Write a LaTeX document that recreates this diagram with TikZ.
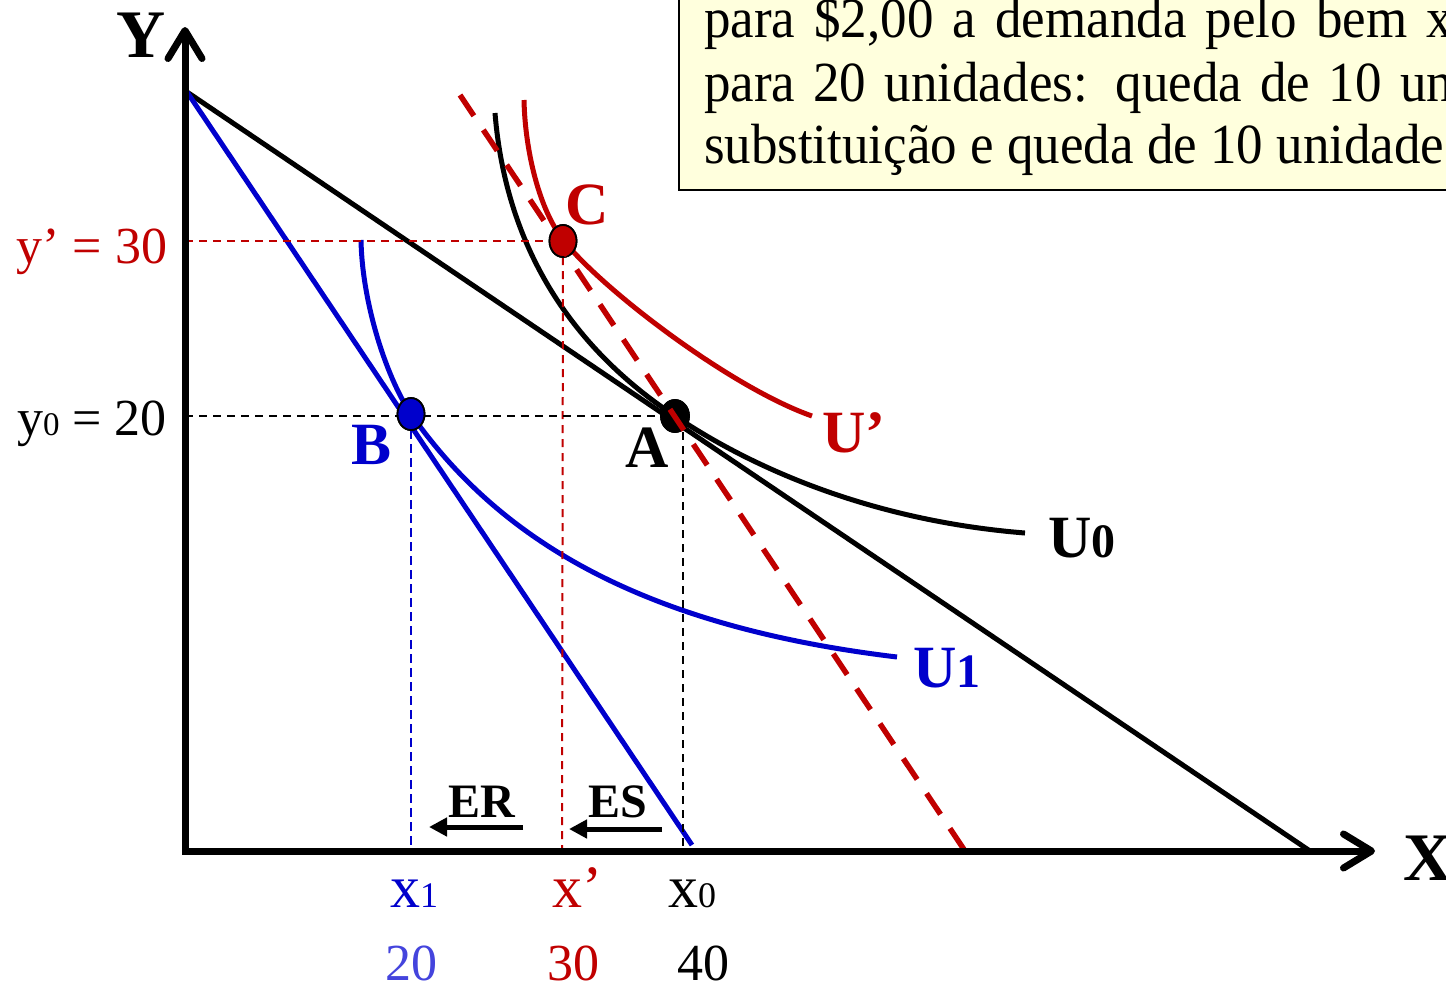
\documentclass[tikz,border=0pt]{standalone}
\usepackage{fontspec}
\setmainfont{Liberation Serif}
\usetikzlibrary{arrows.meta,shapes.geometric}
\definecolor{dred}{RGB}{192,0,0}
\definecolor{dblue}{RGB}{0,0,204}
\definecolor{lblue}{RGB}{68,68,221}
\definecolor{boxfill}{RGB}{255,255,221}
\newcommand\myfs[1]{\fontsize{#1}{#1}\selectfont}
\begin{document}
\begin{tikzpicture}[x=1pt,y=-1pt,
  every node/.style={inner sep=0pt, outer sep=0pt},
  axisline/.style={line width=7pt, -{Straight Barb[length=28pt,width=34pt,round]}},
  bline/.style={line width=5pt},
  icurve/.style={line width=5pt},
  thindash/.style={line width=2pt, dash pattern=on 8pt off 6pt},
  ptmark/.style={ellipse, draw=black, line width=1.8pt, minimum width=27pt, minimum height=32pt},
  effarrow/.style={line width=5pt, -{Triangle[length=18pt,width=18pt]}},
  boxtext/.style={anchor=base west, font=\myfs{53}},
  lab/.style={font=\bfseries\myfs{60}},
]
\useasboundingbox (0,0) rectangle (1446,986);
\clip (0,0) rectangle (1446,986);

% text box
\node[draw=black, line width=2.5pt, fill=boxfill, anchor=south west, minimum width=830pt, minimum height=230pt] (tbox) at (679,190) {};
\node[boxtext] (t1) at (704,37) {\scalebox{1}[1.07]{\makebox[749pt][s]{para \$2,00 a demanda pelo bem x}}};
\node[boxtext] (t2) at (704,101) {\scalebox{1}[1.07]{\makebox[749pt][s]{para 20 unidades: queda de 10 un}}};
\node[boxtext] (t3) at (704,163) {\scalebox{1}[1.07]{substituição e queda de 10 unidade}};

% coordinates
\coordinate (O) at (185,851);
\coordinate (Ytip) at (185,27);
\coordinate (Xstart) at (182,851);
\coordinate (Xtip) at (1375,851);
\coordinate (Ytop) at (187,92);
\coordinate (Xb0) at (1310,851);
\coordinate (Xb1) at (692,845);
\coordinate (r1) at (460,95);
\coordinate (r2) at (965,851);

% budget lines
\draw[bline] (Ytop) -- (Xb0);
\draw[bline, dblue] (Ytop) -- (Xb1);

% indifference curves
\draw[icurve] (495,113) .. controls (503,213) and (545,330) .. (675,416)
                        .. controls (755,470) and (875,521) .. (1025,533);
\draw[icurve, dred] (524,100) .. controls (525,150) and (539,210) .. (564,241)
                              .. controls (604,291) and (732,388) .. (812,416);
\draw[icurve, dblue] (361,240) .. controls (362,300) and (385,375) .. (411,414)
                               .. controls (501,543) and (647,627) .. (897,657);

% points
\node[ptmark, fill=dblue] (B) at (411,414) {};
\node[ptmark, fill=dred] (C) at (563,241) {};
\node[ptmark, fill=black, minimum width=28pt] (A) at (675,416) {};

% dashed guides
\coordinate (yC) at (185,241);
\coordinate (xC) at (562,851);
\coordinate (yA) at (185,416);
\coordinate (xAt) at (683,432);
\coordinate (xA) at (683,851);
\coordinate (xB) at (411,851);
\draw[thindash, dred] (yC) -- (C);
\draw[thindash, dred] (C) -- (xC);
\draw[thindash] (yA) -- (A);
\draw[thindash] (xAt) -- (xA);
\draw[thindash, dblue, dash pattern=on 9pt off 5pt] (B) -- (xB);

% points on top of guides
\node[ptmark, fill=dblue] at (B) {};
\node[ptmark, fill=dred] at (C) {};
\node[ptmark, fill=black, minimum width=28pt] at (A) {};

% rotated budget line (dashed)
\draw[line width=5.5pt, dred, dash pattern=on 25pt off 17pt] (r1) -- (r2);

% axes
\draw[axisline] (O) -- (Ytip);
\draw[axisline] (Xstart) -- (Xtip);

% axis labels
\node[font=\bfseries\myfs{68}] (Ylab) at (141,35) {Y};
\node[font=\bfseries\myfs{68}] (Xlab) at (1428,858) {X};

\node[anchor=base east, font=\myfs{52}, text=dred] (ylC) at (167,263) {y’ = 30};
\node[anchor=base east, font=\myfs{52}] (ylA) at (167,435) {y{\myfs{33}0} = 20};

\node[anchor=base west, font=\myfs{60}, text=dblue] (x1) at (390,907) {x{\myfs{36}1}};
\node[anchor=base west, font=\myfs{60}, text=dred] (xp) at (552,907) {x’};
\node[anchor=base west, font=\myfs{60}] (x0) at (668,907) {x{\myfs{36}0}};

\node[anchor=base west, font=\myfs{52}, text=lblue] (n20) at (385,980) {20};
\node[anchor=base west, font=\myfs{52}, text=dred] (n30) at (547,980) {30};
\node[anchor=base west, font=\myfs{52}] (n40) at (677,980) {40};

% point labels
\node[lab, text=dred] (Clab) at (587,205) {C};
\node[lab] (Alab) at (647,448) {A};
\node[lab, text=dblue] (Blab) at (372,445) {B};
\node[lab, text=dred, anchor=base west] (Uplab) at (822,452) {U’};
\node[lab, anchor=base west] (U0lab) at (1048,557) {U{\myfs{48}0}};
\node[lab, text=dblue, anchor=base west] (U1lab) at (913,687) {U{\myfs{48}1}};

% effects
\node[anchor=base west, font=\bfseries\myfs{48}] (ER) at (448,817) {ER};
\node[anchor=base west, font=\bfseries\myfs{48}] (ES) at (588,817) {ES};
\coordinate (er1) at (523,827);
\coordinate (er2) at (429,827);
\coordinate (es1) at (662,829);
\coordinate (es2) at (569,829);
\draw[effarrow] (er1) -- (er2);
\draw[effarrow] (es1) -- (es2);
\end{tikzpicture}
\end{document}
